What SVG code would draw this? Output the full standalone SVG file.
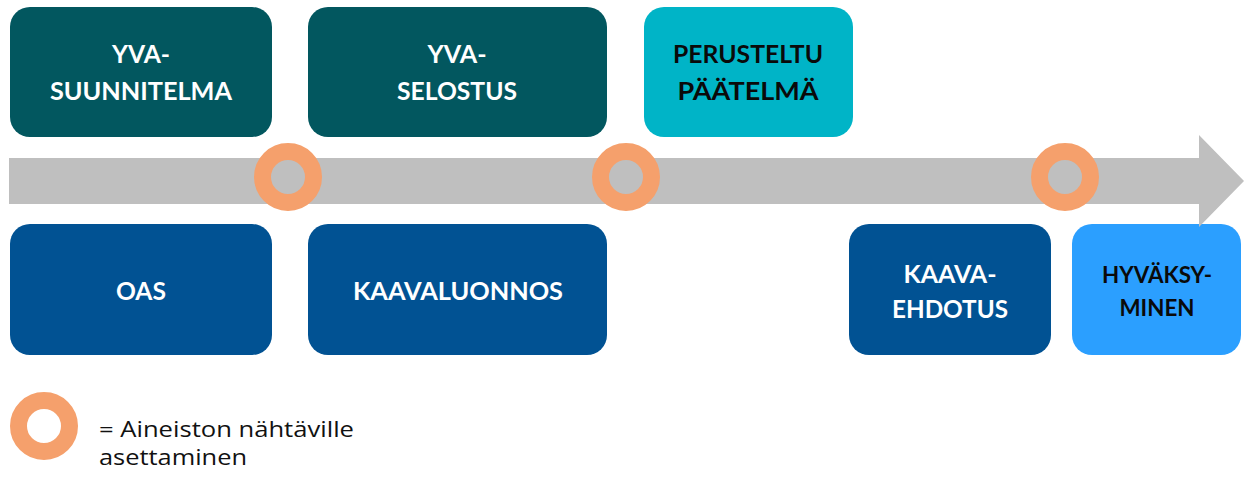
<svg xmlns="http://www.w3.org/2000/svg" width="1246" height="479" viewBox="0 0 1246 479">
<style>
.box{stroke:none}
.yva{fill:#02575F}
.pp{fill:#00B4C7}
.kaava{fill:#015293}
.hyv{fill:#2B9FFF}
.lbl{font-family:Lato,"Liberation Sans",sans-serif;font-weight:bold;font-size:25px;text-anchor:middle}
.w{fill:#FFFFFF}
.k{fill:#0A0A0A}
.ring{fill:none;stroke:#F5A06C;stroke-width:17}
.leg{font-family:"Open Sans","Liberation Sans",sans-serif;font-size:22px;fill:#111111}
</style>
<rect width="1246" height="479" fill="#FFFFFF"/>
<g id="yva-suunnitelma">
<rect class="box yva" x="10" y="7" width="262" height="130" rx="20"/>
<text class="lbl w" x="141" y="63" textLength="58" lengthAdjust="spacingAndGlyphs">YVA-</text>
<text class="lbl w" x="141" y="100" textLength="182" lengthAdjust="spacingAndGlyphs">SUUNNITELMA</text>
</g>
<g id="yva-selostus">
<rect class="box yva" x="308" y="7" width="299" height="130" rx="20"/>
<text class="lbl w" x="457" y="63" textLength="59" lengthAdjust="spacingAndGlyphs">YVA-</text>
<text class="lbl w" x="457" y="100" textLength="120" lengthAdjust="spacingAndGlyphs">SELOSTUS</text>
</g>
<g id="perusteltu-paatelma">
<rect class="box pp" x="644" y="7" width="209" height="130" rx="20"/>
<text class="lbl k" x="748" y="63" textLength="150" lengthAdjust="spacingAndGlyphs">PERUSTELTU</text>
<text class="lbl k" x="748" y="100" textLength="141" lengthAdjust="spacingAndGlyphs">PÄÄTELMÄ</text>
</g>
<g id="oas">
<rect class="box kaava" x="10" y="224" width="262" height="131" rx="20"/>
<text class="lbl w" x="141" y="300" textLength="50" lengthAdjust="spacingAndGlyphs">OAS</text>
</g>
<g id="kaavaluonnos">
<rect class="box kaava" x="308" y="224" width="299" height="131" rx="20"/>
<text class="lbl w" x="458" y="300" textLength="210" lengthAdjust="spacingAndGlyphs">KAAVALUONNOS</text>
</g>
<g id="kaava-ehdotus">
<rect class="box kaava" x="849" y="224" width="202" height="131" rx="20"/>
<text class="lbl w" x="950" y="283" textLength="93" lengthAdjust="spacingAndGlyphs">KAAVA-</text>
<text class="lbl w" x="950" y="318" textLength="116" lengthAdjust="spacingAndGlyphs">EHDOTUS</text>
</g>
<g id="hyvaksyminen">
<rect class="box hyv" x="1072" y="224" width="169" height="131" rx="20"/>
<text class="lbl k" x="1157" y="283" textLength="110" lengthAdjust="spacingAndGlyphs" style="font-size:23px">HYVÄKSY-</text>
<text class="lbl k" x="1157" y="316" textLength="75" lengthAdjust="spacingAndGlyphs" style="font-size:23px">MINEN</text>
</g>
<g id="connectors">
<polygon id="timeline" points="9,158 1199,158 1199,135 1244,181 1199,227 1199,204 9,204" fill="#BFBFBF"/>
</g>
<g id="milestone-1"><circle class="ring" cx="288" cy="177" r="25.5"/></g>
<g id="milestone-2"><circle class="ring" cx="626" cy="177" r="25.5"/></g>
<g id="milestone-3"><circle class="ring" cx="1065" cy="177" r="25.5"/></g>
<g id="legend">
<circle class="ring" cx="44" cy="426" r="25.5"/>
<text class="leg" x="99" y="437" textLength="255" lengthAdjust="spacingAndGlyphs">= Aineiston nähtäville</text>
<text class="leg" x="99" y="465" textLength="148" lengthAdjust="spacingAndGlyphs">asettaminen</text>
</g>
</svg>
